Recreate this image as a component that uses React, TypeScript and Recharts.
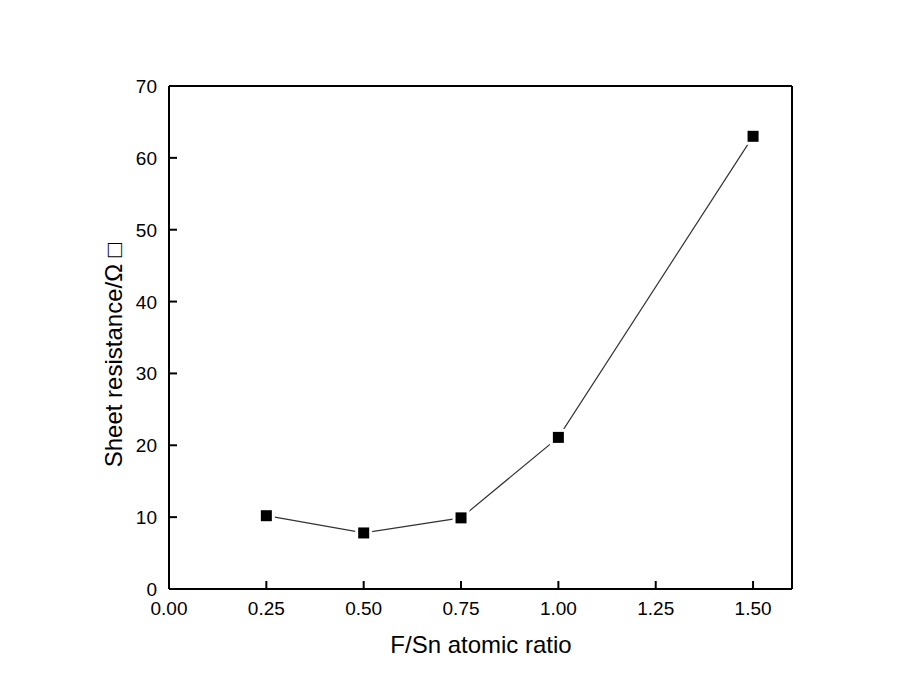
import React from 'react';
import { LineChart, Line, XAxis, YAxis, ReferenceLine } from 'recharts';

const ratios = [0.25, 0.5, 0.75, 1.0, 1.5];
const resistance = [10.2, 7.8, 9.9, 21.1, 63.0];
const xTicks = [0, 0.25, 0.5, 0.75, 1.0, 1.25, 1.5];
const yTicks = [0, 10, 20, 30, 40, 50, 60, 70];
const xLabel = 'F/Sn atomic ratio';
const yLabel = 'Sheet resistance/Ω □';

const data = ratios.map((r, i) => ({ ratio: r, value: resistance[i] }));

const FONT = "Arial, 'Liberation Sans', sans-serif";

const XTick = (props: any) => {
  const { x, y, payload } = props;
  return (
    <g>
      <line x1={x} y1={y} x2={x} y2={y - 8} stroke="#000" strokeWidth={2} />
      <text x={x} y={y + 26} textAnchor="middle" fontSize={19} fontFamily={FONT} fill="#000">
        {Number(payload.value).toFixed(2)}
      </text>
    </g>
  );
};

const YTick = (props: any) => {
  const { x, y, payload } = props;
  return (
    <g>
      <line x1={x + 12} y1={y} x2={x + 20} y2={y} stroke="#000" strokeWidth={2} />
      <text x={x} y={y + 7} textAnchor="end" fontSize={19} fontFamily={FONT} fill="#000">
        {payload.value}
      </text>
    </g>
  );
};

const SquareDot = (props: any) => {
  const { cx, cy } = props;
  if (cx == null || cy == null) return null;
  return (
    <g>
      <rect x={cx - 8.5} y={cy - 8.5} width={17} height={17} fill="#fff" />
      <rect x={cx - 5.5} y={cy - 5.5} width={11} height={11} fill="#000" />
    </g>
  );
};

export default function App() {
  return (
    <div style={{ position: 'absolute', left: 0, top: 0, width: 905, height: 697, background: '#fff' }}>
      <LineChart
        width={905}
        height={697}
        data={data}
        margin={{ top: 86, right: 113, bottom: 0, left: 0 }}
      >
        <XAxis
          dataKey="ratio"
          type="number"
          domain={[0, 1.6]}
          ticks={xTicks}
          allowDataOverflow
          height={108}
          tickLine={false}
          tickSize={0}
          tickMargin={0}
          tick={<XTick />}
          axisLine={{ stroke: '#000', strokeWidth: 2 }}
          label={{
            content: () => (
              <text x={481} y={653} textAnchor="middle" fontSize={24} fontFamily={FONT} fill="#000">
                {xLabel}
              </text>
            ),
          }}
        />
        <YAxis
          type="number"
          domain={[0, 70]}
          ticks={yTicks}
          allowDataOverflow
          width={169}
          tickLine={false}
          tickSize={0}
          tickMargin={12}
          tick={<YTick />}
          axisLine={{ stroke: '#000', strokeWidth: 2 }}
          label={{
            content: () => (
              <text
                x={122}
                y={355}
                transform="rotate(-90, 122, 355)"
                textAnchor="middle"
                fontSize={24}
                fontFamily={FONT}
                fill="#000"
              >
                {yLabel}
              </text>
            ),
          }}
        />
        <ReferenceLine y={70} stroke="#000" strokeWidth={2} />
        <ReferenceLine x={1.6} stroke="#000" strokeWidth={2} />
        <Line
          type="linear"
          dataKey="value"
          stroke="#333"
          strokeWidth={1.2}
          dot={<SquareDot />}
          activeDot={false}
          isAnimationActive={false}
        />
      </LineChart>
    </div>
  );
}
